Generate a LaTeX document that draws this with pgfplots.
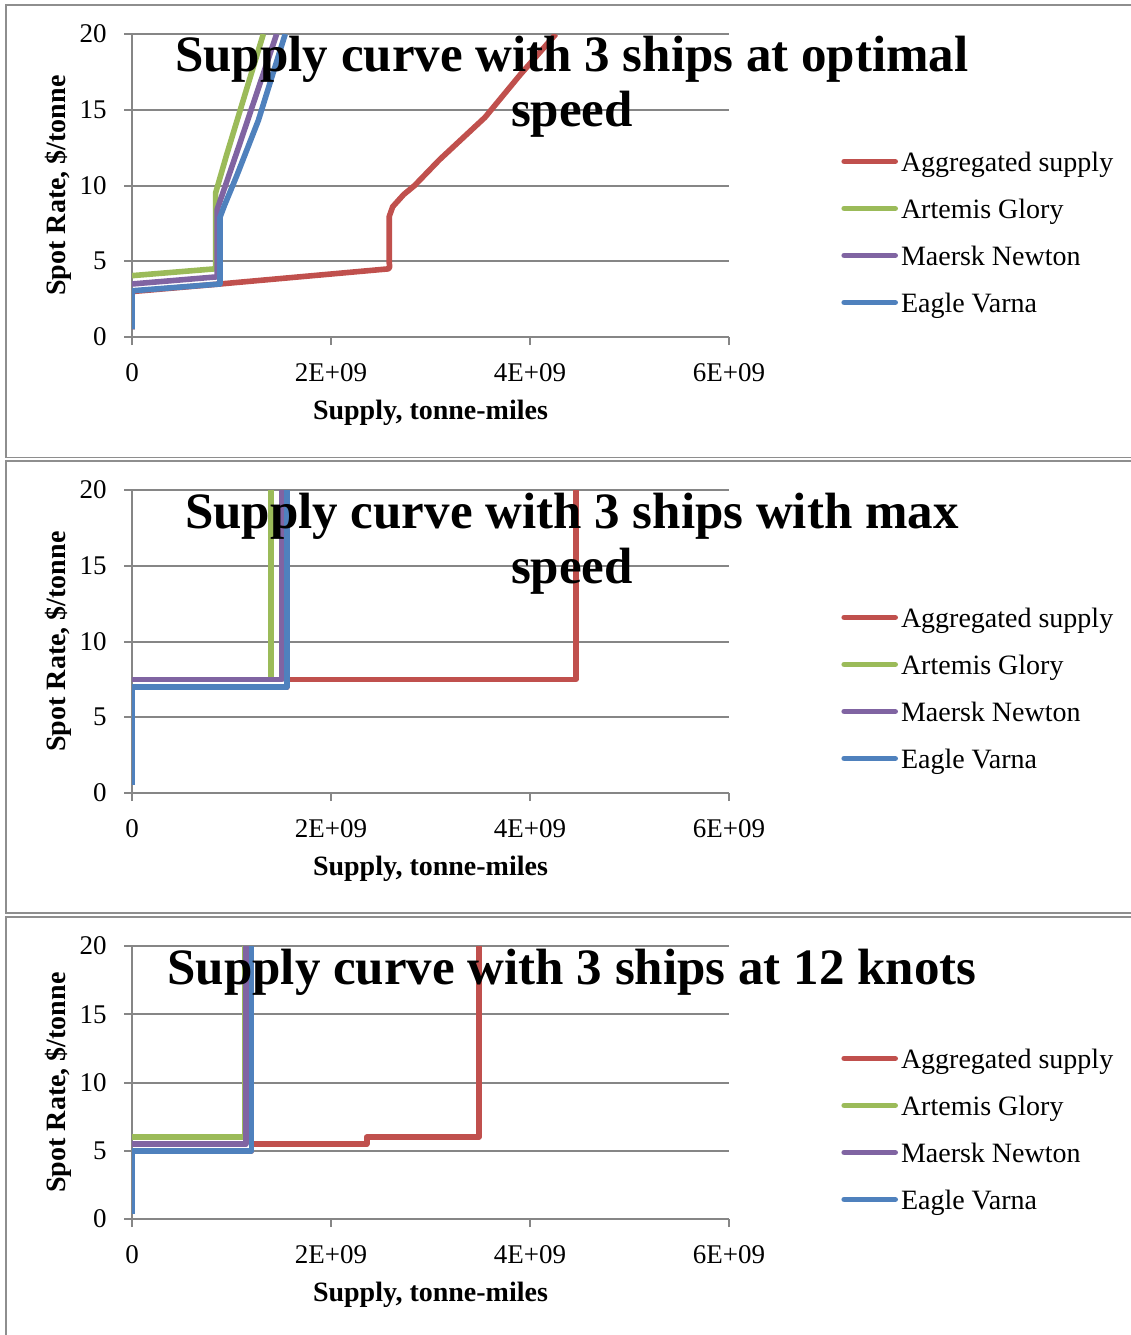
\documentclass[border=0pt]{standalone}
\usepackage{fontspec}
\setmainfont{Liberation Serif}
\usepackage{pgfplots}
\pgfplotsset{compat=1.18}
\definecolor{cRed}{HTML}{C0504D}
\definecolor{cGreen}{HTML}{9BBB59}
\definecolor{cPurple}{HTML}{8064A2}
\definecolor{cBlue}{HTML}{4F81BD}
\definecolor{axgray}{HTML}{868686}
\definecolor{framegray}{HTML}{8E8E8E}

\pgfplotsset{
  panel/.style={
    scale only axis,
    width=298.5pt,
    xmin=0, xmax=6e9, ymin=0, ymax=20,
    axis x line*=bottom, axis y line*=left,
    axis line style={axgray, line width=1pt},
    scaled x ticks=false,
    xtick={0,2e9,4e9,6e9},
    xticklabels={0,2E+09,4E+09,6E+09},
    ytick={0,5,10,15,20},
    tick align=outside,
    major tick length=4pt,
    tick style={axgray, line width=1pt},
    ymajorgrids,
    grid style={axgray, line width=1pt},
    /pgf/number format/assume math mode=true,
    tick label style={font=\fontsize{13.5}{16}\selectfont, inner sep=0pt},
    yticklabel style={xshift=-8.5pt},
    xticklabel style={yshift=-9.25pt},
    label style={font=\fontsize{14}{16}\selectfont\bfseries},
    xlabel={Supply, tonne-miles},
    ylabel={Spot Rate, \$/tonne},
    xlabel style={at={(axis description cs:0.5,0)}, anchor=center, yshift=-38pt},
    ylabel style={at={(axis description cs:-0.124,0.5)}, anchor=center},
    title style={at={(axis description cs:0.737,1)}, anchor=north, align=center, inner sep=0pt, font=\fontsize{25.5}{27.5}\selectfont\bfseries},
    legend cell align=left,
    legend style={draw=none, fill=none, inner sep=0pt, row sep=9.5pt, column sep=0.5pt,
      font=\fontsize{14}{16}\selectfont, nodes={inner sep=1pt, text height=11pt, text depth=1pt}},
    legend image code/.code={\draw[line width=2.8pt, line cap=round] (0pt,0pt) -- (25.5pt,0pt);},
    every axis plot/.append style={line width=2.8pt, line join=round},
  }
}

\begin{document}
\begin{tikzpicture}
\useasboundingbox (0pt,0pt) rectangle (565.5pt,-667.5pt);
\draw[framegray, line width=0.8pt] (3pt,-2.5pt) rectangle (575pt,-228.75pt);
\draw[framegray, line width=0.8pt] (3pt,-230.35pt) rectangle (575pt,-456.5pt);
\draw[framegray, line width=0.8pt] (3pt,-458.5pt) rectangle (575pt,-690pt);

% Panel 1
\begin{axis}[panel, height=151.5pt, at={(66pt,-168.5pt)}, anchor=south west,
  title={Supply curve with 3 ships at optimal\\speed},
  title style={yshift=-7pt},
  legend style={at={(axis description cs:1.1876,0.627)}, anchor=north west}]
\addplot[cRed] coordinates {(0,0.5) (0,3) (8.84e8,3.5) (2.58e9,4.5) (2.59e9,4.65) (2.585e9,4.9) (2.585e9,7.95) (2.62e9,8.6) (2.73e9,9.4) (2.84e9,10.0) (3.09e9,11.7) (3.548e9,14.5) (3.9e9,17.3) (4.26e9,20)};
\addlegendentry{Aggregated supply}
\addplot[cGreen] coordinates {(0,4.05) (8.34e8,4.5) (8.4e8,4.6) (8.4e8,9.5) (9.5e8,12.0) (1.32e9,20)};
\addlegendentry{Artemis Glory}
\addplot[cPurple] coordinates {(0,3.5) (8.7e8,3.98) (8.55e8,4.2) (8.55e8,8.4) (1.08e9,12.7) (1.454e9,20)};
\addlegendentry{Maersk Newton}
\addplot[cBlue] coordinates {(0,0.5) (0,3.05) (8.84e8,3.5) (8.84e8,7.9) (9.3e8,8.7) (1.05e9,10.6) (1.27e9,14.3) (1.54e9,20)};
\addlegendentry{Eagle Varna}
\end{axis}

% Panel 2
\begin{axis}[panel, height=151.5pt, at={(66pt,-396.5pt)}, anchor=south west,
  title={Supply curve with 3 ships with max\\speed},
  title style={yshift=-7.5pt},
  legend style={at={(axis description cs:1.1876,0.627)}, anchor=north west}]
\addplot[cRed] coordinates {(0,0.5) (0,7) (1.555e9,7) (1.555e9,7.5) (4.462e9,7.5) (4.462e9,21)};
\addlegendentry{Aggregated supply}
\addplot[cGreen] coordinates {(0,7.5) (1.394e9,7.5) (1.394e9,21)};
\addlegendentry{Artemis Glory}
\addplot[cPurple] coordinates {(0,7.5) (1.51e9,7.5) (1.51e9,21)};
\addlegendentry{Maersk Newton}
\addplot[cBlue] coordinates {(0,0.5) (0,7) (1.555e9,7) (1.555e9,21)};
\addlegendentry{Eagle Varna}
\end{axis}

% Panel 3
\begin{axis}[panel, height=136.5pt, at={(66pt,-609.5pt)}, anchor=south west,
  title={Supply curve with 3 ships at 12 knots},
  title style={yshift=-7.5pt},
  legend style={at={(axis description cs:1.1876,0.641)}, anchor=north west}]
\addplot[cRed] coordinates {(0,0.4) (0,5) (1.203e9,5) (1.203e9,5.5) (2.359e9,5.5) (2.359e9,6) (3.487e9,6) (3.487e9,21)};
\addlegendentry{Aggregated supply}
\addplot[cGreen] coordinates {(0,6) (1.13e9,6) (1.13e9,21)};
\addlegendentry{Artemis Glory}
\addplot[cPurple] coordinates {(0,5.5) (1.143e9,5.5) (1.143e9,21)};
\addlegendentry{Maersk Newton}
\addplot[cBlue] coordinates {(0,0.4) (0,5) (1.203e9,5) (1.203e9,21)};
\addlegendentry{Eagle Varna}
\end{axis}
\end{tikzpicture}
\end{document}
